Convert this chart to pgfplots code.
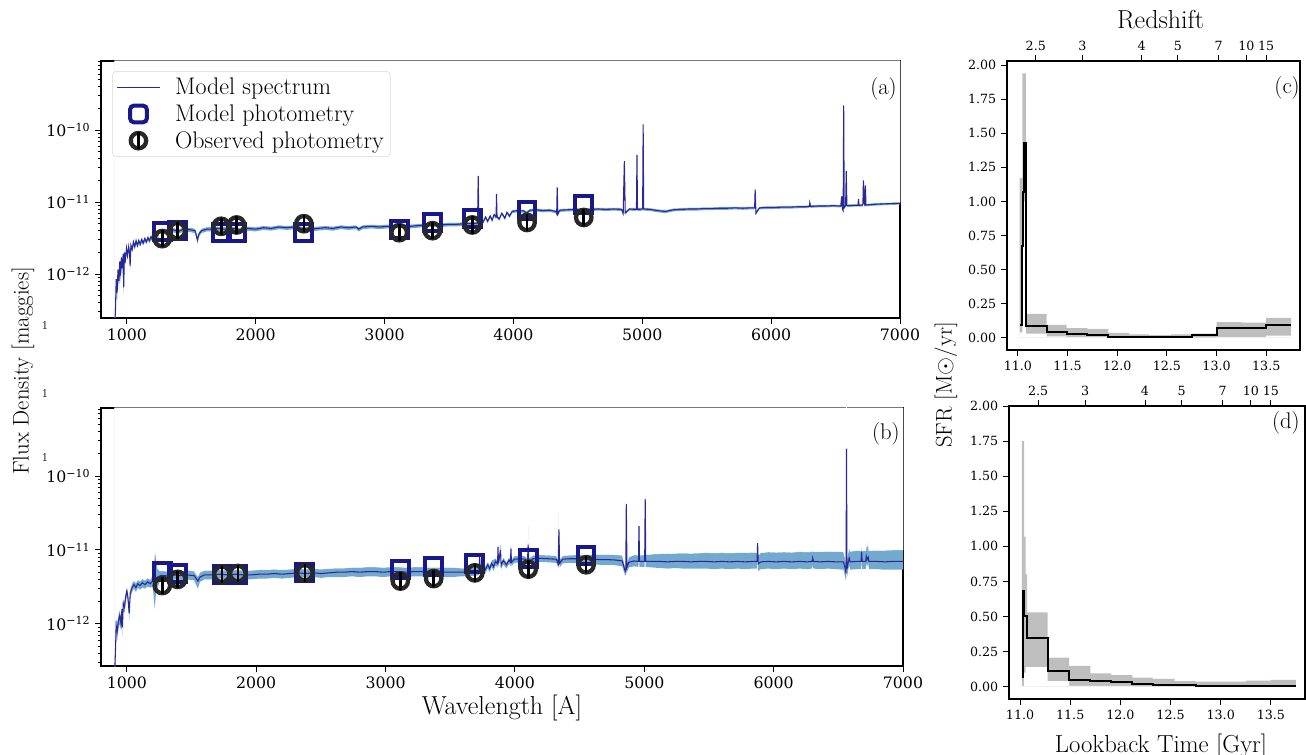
\documentclass[border=0pt]{standalone}
\usepackage{fontspec}
\usepackage{pgfplots}
\usepackage{pgfplotstable}
\pgfplotsset{compat=1.18}
\newfontfamily\dvs{DejaVu Serif}
% tick labels are set in math mode by pgfplots, so they are boxed in DejaVu Serif here
\newcommand\tkl[1]{\mbox{\dvs\fontsize{11.8}{14}\selectfont #1}}
\newcommand\tkr[1]{\mbox{\dvs\fontsize{9.5}{11}\selectfont #1}}

\definecolor{specband}{RGB}{116,169,207}
\definecolor{specline}{RGB}{40,40,150}
\definecolor{phnavy}{RGB}{24,24,138}
\definecolor{obsgray}{RGB}{40,40,40}
\definecolor{sfhband}{RGB}{190,190,190}

% flux axes are drawn as log10(flux) on a linear axis
% model spectrum, panel (a): wavelength, median, 16th and 84th percentiles [maggies]
\pgfplotstableread{
lam f lo hi
905 0.20e-12 0.15e-12 0.25e-12
912 0.30e-12 0.22e-12 0.40e-12
918 0.85e-12 0.6e-12 1.1e-12
925 0.55e-12 0.4e-12 0.8e-12
932 1.15e-12 0.9e-12 1.4e-12
940 0.80e-12 0.6e-12 1.0e-12
946 1.5e-12 1.2e-12 1.8e-12
952 0.95e-12 0.75e-12 1.2e-12
958 1.7e-12 1.4e-12 2.0e-12
965 1.2e-12 1.0e-12 1.5e-12
972 1.9e-12 1.6e-12 2.2e-12
976 0.65e-12 0.5e-12 0.8e-12
982 2.0e-12 1.7e-12 2.3e-12
990 1.6e-12 1.4e-12 1.9e-12
998 2.3e-12 2.0e-12 2.6e-12
1006 1.8e-12 1.6e-12 2.1e-12
1015 2.4e-12 2.1e-12 2.7e-12
1022 1.9e-12 1.7e-12 2.2e-12
1026 1.3e-12 1.1e-12 1.6e-12
1032 2.5e-12 2.2e-12 2.8e-12
1042 2.2e-12 2.0e-12 2.5e-12
1052 2.8e-12 2.5e-12 3.1e-12
1062 2.4e-12 2.2e-12 2.7e-12
1072 2.9e-12 2.6e-12 3.2e-12
1082 2.5e-12 2.3e-12 2.8e-12
1092 2.9e-12 2.6e-12 3.2e-12
1104 2.6e-12 2.4e-12 2.9e-12
1116 3.0e-12 2.7e-12 3.3e-12
1128 2.7e-12 2.5e-12 3.0e-12
1140 3.1e-12 2.8e-12 3.4e-12
1152 2.8e-12 2.6e-12 3.1e-12
1164 3.2e-12 2.9e-12 3.5e-12
1176 2.9e-12 2.7e-12 3.2e-12
1188 3.3e-12 3.0e-12 3.6e-12
1200 3.0e-12 2.8e-12 3.3e-12
1210 3.5e-12 3.2e-12 3.9e-12
1216 3.1e-12 2.4e-12 3.6e-12
1225 3.7e-12 3.4e-12 4.0e-12
1236 3.4e-12 2.2e-12 3.8e-12
1250 3.9e-12 3.6e-12 4.2e-12
1275 4.0e-12 3.7e-12 4.3e-12
1300 4.0e-12 3.7e-12 4.3e-12
1335 3.8e-12 3.5e-12 4.1e-12
1360 4.1e-12 3.8e-12 4.4e-12
1400 3.9e-12 3.6e-12 4.2e-12
1440 4.2e-12 3.9e-12 4.5e-12
1500 4.1e-12 3.8e-12 4.4e-12
1530 4.0e-12 3.7e-12 4.3e-12
1549 3.0e-12 2.6e-12 3.4e-12
1560 3.6e-12 3.3e-12 3.9e-12
1580 4.0e-12 3.7e-12 4.3e-12
1620 4.2e-12 3.9e-12 4.5e-12
1660 4.2e-12 3.9e-12 4.5e-12
1700 4.3e-12 4.0e-12 4.6e-12
1760 4.2e-12 3.9e-12 4.5e-12
1820 4.3e-12 4.0e-12 4.6e-12
1880 4.1e-12 3.8e-12 4.4e-12
1940 4.3e-12 4.0e-12 4.6e-12
2000 4.2e-12 3.9e-12 4.5e-12
2060 4.4e-12 4.1e-12 4.7e-12
2120 4.3e-12 4.0e-12 4.6e-12
2180 4.5e-12 4.2e-12 4.8e-12
2240 4.4e-12 4.1e-12 4.7e-12
2300 4.5e-12 4.2e-12 4.8e-12
2360 4.3e-12 4.0e-12 4.6e-12
2420 4.2e-12 3.9e-12 4.5e-12
2480 4.3e-12 4.0e-12 4.6e-12
2540 4.4e-12 4.1e-12 4.7e-12
2600 4.3e-12 4.0e-12 4.6e-12
2660 4.5e-12 4.2e-12 4.8e-12
2720 4.4e-12 4.1e-12 4.7e-12
2780 4.5e-12 4.2e-12 4.8e-12
2800 4.2e-12 3.9e-12 4.5e-12
2830 4.5e-12 4.2e-12 4.8e-12
2900 4.6e-12 4.3e-12 4.9e-12
2960 4.5e-12 4.2e-12 4.8e-12
3020 4.6e-12 4.3e-12 4.9e-12
3080 4.6e-12 4.3e-12 4.9e-12
3140 4.7e-12 4.4e-12 5.0e-12
3200 4.6e-12 4.3e-12 4.9e-12
3260 4.7e-12 4.4e-12 5.0e-12
3320 4.8e-12 4.5e-12 5.1e-12
3380 4.8e-12 4.5e-12 5.1e-12
3440 4.8e-12 4.5e-12 5.1e-12
3500 4.9e-12 4.6e-12 5.2e-12
3560 4.9e-12 4.6e-12 5.2e-12
3620 5.0e-12 4.7e-12 5.3e-12
3680 5.0e-12 4.7e-12 5.3e-12
3722 5.1e-12 4.8e-12 5.4e-12
3727 23e-12 21e-12 28e-12
3732 5.2e-12 4.9e-12 5.5e-12
3750 5.8e-12 5.4e-12 6.2e-12
3765 5.3e-12 5.0e-12 5.7e-12
3785 6.2e-12 5.8e-12 6.6e-12
3800 5.4e-12 5.1e-12 5.8e-12
3820 6.4e-12 6.0e-12 6.8e-12
3835 5.6e-12 5.3e-12 6.0e-12
3850 6.7e-12 6.3e-12 7.1e-12
3866 6.2e-12 5.8e-12 6.6e-12
3869 13e-12 12e-12 15e-12
3873 6.3e-12 5.9e-12 6.7e-12
3890 5.8e-12 5.5e-12 6.2e-12
3910 7.0e-12 6.6e-12 7.4e-12
3934 6.0e-12 5.6e-12 6.4e-12
3950 7.2e-12 6.8e-12 7.6e-12
3970 6.4e-12 6.0e-12 6.8e-12
3990 7.4e-12 7.0e-12 7.8e-12
4030 7.6e-12 7.2e-12 8.0e-12
4080 7.5e-12 7.1e-12 7.9e-12
4102 7.0e-12 6.6e-12 7.6e-12
4130 7.7e-12 7.3e-12 8.1e-12
4180 7.8e-12 7.4e-12 8.2e-12
4230 7.6e-12 7.2e-12 8.0e-12
4280 7.7e-12 7.3e-12 8.1e-12
4330 7.4e-12 7.0e-12 7.8e-12
4336 6.9e-12 6.5e-12 7.3e-12
4340 16e-12 15e-12 19e-12
4345 6.8e-12 6.4e-12 7.2e-12
4360 7.7e-12 7.3e-12 8.1e-12
4420 7.8e-12 7.4e-12 8.2e-12
4480 7.9e-12 7.5e-12 8.3e-12
4540 7.8e-12 7.4e-12 8.2e-12
4600 7.9e-12 7.5e-12 8.3e-12
4660 8.0e-12 7.6e-12 8.4e-12
4720 7.9e-12 7.5e-12 8.3e-12
4780 8.0e-12 7.6e-12 8.4e-12
4840 7.9e-12 7.5e-12 8.3e-12
4852 6.9e-12 6.5e-12 7.3e-12
4861 37e-12 34e-12 44e-12
4868 7.1e-12 6.7e-12 7.5e-12
4900 8.0e-12 7.6e-12 8.4e-12
4955 7.9e-12 7.5e-12 8.3e-12
4959 45e-12 42e-12 52e-12
4963 7.9e-12 7.5e-12 8.3e-12
5003 8.0e-12 7.6e-12 8.4e-12
5007 120e-12 112e-12 140e-12
5011 8.0e-12 7.6e-12 8.4e-12
5060 7.9e-12 7.5e-12 8.3e-12
5120 7.6e-12 7.2e-12 8.0e-12
5180 7.4e-12 7.0e-12 7.8e-12
5240 7.8e-12 7.4e-12 8.2e-12
5300 7.9e-12 7.5e-12 8.3e-12
5360 8.0e-12 7.6e-12 8.4e-12
5420 8.0e-12 7.6e-12 8.4e-12
5480 8.1e-12 7.7e-12 8.5e-12
5540 8.1e-12 7.7e-12 8.5e-12
5600 8.2e-12 7.8e-12 8.6e-12
5660 8.2e-12 7.8e-12 8.6e-12
5720 8.3e-12 7.9e-12 8.7e-12
5780 8.2e-12 7.8e-12 8.6e-12
5840 8.3e-12 7.9e-12 8.7e-12
5872 8.3e-12 7.9e-12 8.7e-12
5876 15e-12 14e-12 18e-12
5882 7.0e-12 6.6e-12 7.4e-12
5892 7.5e-12 7.1e-12 7.9e-12
5910 8.3e-12 7.9e-12 8.7e-12
5970 8.4e-12 8.0e-12 8.8e-12
6030 8.4e-12 8.0e-12 8.8e-12
6090 8.5e-12 8.1e-12 8.9e-12
6150 8.5e-12 8.1e-12 8.9e-12
6210 8.6e-12 8.2e-12 9.0e-12
6270 8.6e-12 8.2e-12 9.0e-12
6297 8.7e-12 8.3e-12 9.1e-12
6300 9.8e-12 9.3e-12 10.3e-12
6306 8.7e-12 8.3e-12 9.1e-12
6360 8.8e-12 8.4e-12 9.2e-12
6420 8.8e-12 8.4e-12 9.2e-12
6480 8.9e-12 8.5e-12 9.3e-12
6540 8.8e-12 8.4e-12 9.2e-12
6548 12e-12 11e-12 13e-12
6553 8.0e-12 7.6e-12 8.4e-12
6559 7.6e-12 7.2e-12 8.0e-12
6563 220e-12 200e-12 280e-12
6567 8.4e-12 8.0e-12 8.8e-12
6578 8.9e-12 8.5e-12 9.3e-12
6583 27e-12 25e-12 31e-12
6588 8.9e-12 8.5e-12 9.3e-12
6640 9.0e-12 8.6e-12 9.4e-12
6674 9.0e-12 8.6e-12 9.4e-12
6678 11e-12 10.5e-12 11.8e-12
6682 9.0e-12 8.6e-12 9.4e-12
6712 9.1e-12 8.7e-12 9.5e-12
6716 20e-12 19e-12 23e-12
6722 9.6e-12 9.1e-12 10.1e-12
6726 9.2e-12 8.8e-12 9.6e-12
6731 17e-12 16e-12 19e-12
6736 9.1e-12 8.7e-12 9.5e-12
6800 9.3e-12 8.9e-12 9.7e-12
6860 9.4e-12 9.0e-12 9.8e-12
6920 9.5e-12 9.1e-12 9.9e-12
7000 9.6e-12 9.2e-12 10.0e-12
}\specA

% model spectrum, panel (b)
\pgfplotstableread{
lam f lo hi
905 0.2e-12 0.15e-12 0.3e-12
913 0.5e-12 0.35e-12 0.8e-12
917 0.95e-12 0.7e-12 1.3e-12
925 0.8e-12 0.6e-12 1.1e-12
935 1.1e-12 0.85e-12 1.4e-12
945 1.3e-12 1.0e-12 1.6e-12
955 1.0e-12 0.8e-12 1.3e-12
962 1.6e-12 1.3e-12 2.0e-12
966 0.9e-12 0.7e-12 1.2e-12
972 1.9e-12 1.5e-12 2.3e-12
982 1.7e-12 1.4e-12 2.1e-12
990 2.3e-12 1.9e-12 2.7e-12
1000 2.8e-12 2.4e-12 3.2e-12
1008 2.3e-12 2.0e-12 2.7e-12
1018 1.4e-12 1.1e-12 1.8e-12
1026 2.6e-12 2.2e-12 3.0e-12
1040 3.1e-12 2.7e-12 3.6e-12
1055 3.4e-12 3.0e-12 3.9e-12
1070 3.1e-12 2.7e-12 3.6e-12
1085 3.5e-12 3.1e-12 4.0e-12
1100 3.3e-12 2.9e-12 3.8e-12
1120 3.6e-12 3.1e-12 4.1e-12
1140 3.4e-12 3.0e-12 3.9e-12
1160 3.7e-12 3.2e-12 4.2e-12
1180 3.5e-12 3.1e-12 4.0e-12
1200 3.8e-12 3.2e-12 4.6e-12
1210 4.0e-12 2.0e-12 7.0e-12
1216 4.6e-12 1.6e-12 10.0e-12
1224 4.2e-12 2.5e-12 8.5e-12
1240 4.3e-12 3.2e-12 5.5e-12
1260 4.5e-12 3.9e-12 5.2e-12
1290 4.5e-12 3.9e-12 5.2e-12
1330 4.4e-12 3.8e-12 5.1e-12
1370 4.6e-12 4.0e-12 5.3e-12
1410 4.5e-12 3.9e-12 5.2e-12
1460 4.6e-12 4.0e-12 5.3e-12
1520 4.5e-12 3.9e-12 5.2e-12
1549 3.8e-12 3.0e-12 4.4e-12
1565 4.3e-12 3.7e-12 5.0e-12
1600 4.6e-12 4.0e-12 5.3e-12
1660 4.6e-12 4.0e-12 5.3e-12
1720 4.7e-12 4.1e-12 5.4e-12
1780 4.6e-12 4.0e-12 5.3e-12
1840 4.7e-12 4.1e-12 5.4e-12
1900 4.6e-12 4.0e-12 5.3e-12
1960 4.6e-12 4.0e-12 5.3e-12
2020 4.7e-12 4.1e-12 5.4e-12
2080 4.7e-12 4.1e-12 5.4e-12
2140 4.8e-12 4.2e-12 5.5e-12
2200 4.7e-12 4.1e-12 5.4e-12
2260 4.8e-12 4.2e-12 5.5e-12
2320 4.9e-12 4.3e-12 5.6e-12
2380 4.8e-12 4.2e-12 5.5e-12
2440 4.9e-12 4.3e-12 5.6e-12
2500 4.8e-12 4.2e-12 5.5e-12
2560 4.9e-12 4.3e-12 5.6e-12
2620 5.0e-12 4.3e-12 5.7e-12
2680 5.0e-12 4.3e-12 5.7e-12
2740 5.1e-12 4.4e-12 5.8e-12
2800 5.0e-12 4.3e-12 5.8e-12
2860 5.1e-12 4.4e-12 5.9e-12
2920 5.1e-12 4.4e-12 5.9e-12
2980 5.0e-12 4.3e-12 5.8e-12
3040 5.1e-12 4.4e-12 5.9e-12
3100 5.1e-12 4.4e-12 5.9e-12
3160 5.0e-12 4.3e-12 5.8e-12
3220 5.1e-12 4.4e-12 5.9e-12
3280 5.1e-12 4.4e-12 5.9e-12
3340 5.0e-12 4.3e-12 5.8e-12
3400 5.0e-12 4.3e-12 5.8e-12
3460 5.0e-12 4.3e-12 5.8e-12
3520 5.0e-12 4.3e-12 5.8e-12
3580 5.0e-12 4.4e-12 5.7e-12
3640 5.0e-12 4.4e-12 5.7e-12
3700 5.1e-12 4.5e-12 5.8e-12
3722 5.2e-12 4.6e-12 5.9e-12
3727 8.2e-12 7.0e-12 15e-12
3732 5.3e-12 4.7e-12 6.0e-12
3750 5.9e-12 5.2e-12 6.6e-12
3770 5.4e-12 4.8e-12 6.1e-12
3790 6.3e-12 5.6e-12 7.0e-12
3805 5.6e-12 5.0e-12 6.3e-12
3820 6.6e-12 5.9e-12 7.3e-12
3835 5.9e-12 5.2e-12 7.5e-12
3850 7.0e-12 6.2e-12 7.8e-12
3866 6.5e-12 5.8e-12 7.2e-12
3869 11e-12 9.5e-12 17e-12
3873 6.6e-12 5.9e-12 7.3e-12
3889 10e-12 8.5e-12 16e-12
3893 6.2e-12 5.5e-12 6.9e-12
3910 7.2e-12 6.4e-12 8.0e-12
3934 6.3e-12 5.6e-12 7.0e-12
3955 7.3e-12 6.5e-12 8.1e-12
3966 6.8e-12 6.0e-12 7.5e-12
3969 10.5e-12 9.0e-12 17e-12
3973 6.8e-12 6.0e-12 7.5e-12
3995 7.5e-12 6.7e-12 8.3e-12
4040 7.6e-12 6.8e-12 8.4e-12
4080 7.5e-12 6.7e-12 8.3e-12
4097 6.9e-12 6.1e-12 7.7e-12
4102 11.8e-12 10e-12 27e-12
4107 7.0e-12 6.2e-12 7.8e-12
4140 7.6e-12 6.8e-12 8.5e-12
4200 7.7e-12 6.9e-12 8.6e-12
4260 7.6e-12 6.8e-12 8.5e-12
4320 7.5e-12 6.7e-12 8.4e-12
4335 6.5e-12 5.7e-12 7.4e-12
4340 19e-12 16e-12 50e-12
4345 6.6e-12 5.8e-12 7.5e-12
4370 7.5e-12 6.6e-12 8.4e-12
4420 7.6e-12 6.7e-12 8.5e-12
4480 7.6e-12 6.6e-12 8.6e-12
4540 7.5e-12 6.5e-12 8.6e-12
4600 7.5e-12 6.4e-12 8.7e-12
4660 7.4e-12 6.3e-12 8.7e-12
4720 7.4e-12 6.3e-12 8.7e-12
4780 7.3e-12 6.2e-12 8.6e-12
4830 7.1e-12 6.0e-12 8.5e-12
4850 5.3e-12 4.6e-12 6.2e-12
4857 5.1e-12 4.5e-12 6.0e-12
4861 42e-12 36e-12 141e-12
4866 5.8e-12 5.0e-12 6.8e-12
4880 6.8e-12 5.8e-12 8.0e-12
4920 7.1e-12 6.0e-12 8.6e-12
4955 7.0e-12 5.9e-12 8.5e-12
4959 21e-12 18e-12 50e-12
4963 7.0e-12 5.9e-12 8.5e-12
5003 7.0e-12 5.9e-12 8.6e-12
5007 49e-12 42e-12 150e-12
5011 7.0e-12 5.9e-12 8.6e-12
5060 7.0e-12 5.8e-12 8.8e-12
5120 7.0e-12 5.7e-12 8.9e-12
5180 6.9e-12 5.6e-12 8.9e-12
5240 7.0e-12 5.7e-12 9.0e-12
5300 7.0e-12 5.6e-12 9.1e-12
5360 6.9e-12 5.6e-12 9.0e-12
5420 7.0e-12 5.6e-12 9.1e-12
5480 7.0e-12 5.6e-12 9.2e-12
5540 6.9e-12 5.5e-12 9.1e-12
5600 7.0e-12 5.6e-12 9.2e-12
5660 6.9e-12 5.5e-12 9.1e-12
5720 7.0e-12 5.6e-12 9.2e-12
5780 6.9e-12 5.5e-12 9.2e-12
5840 7.0e-12 5.6e-12 9.3e-12
5872 7.0e-12 5.6e-12 9.3e-12
5876 12.4e-12 10.5e-12 27e-12
5881 6.5e-12 5.2e-12 8.5e-12
5900 6.9e-12 5.5e-12 9.2e-12
5960 7.0e-12 5.6e-12 9.4e-12
6020 6.9e-12 5.5e-12 9.3e-12
6080 7.0e-12 5.6e-12 9.4e-12
6140 6.9e-12 5.5e-12 9.3e-12
6200 7.0e-12 5.6e-12 9.5e-12
6260 6.9e-12 5.5e-12 9.4e-12
6297 7.0e-12 5.6e-12 9.5e-12
6302 7.8e-12 6.3e-12 10.5e-12
6307 7.0e-12 5.6e-12 9.5e-12
6360 6.9e-12 5.5e-12 9.5e-12
6420 7.0e-12 5.6e-12 9.6e-12
6480 6.9e-12 5.5e-12 9.5e-12
6540 6.9e-12 5.4e-12 9.5e-12
6556 5.4e-12 4.0e-12 7.5e-12
6560 4.8e-12 3.8e-12 6.8e-12
6563 234e-12 180e-12 900e-12
6567 5.5e-12 4.3e-12 7.8e-12
6575 6.6e-12 5.2e-12 9.2e-12
6584 7.8e-12 6.2e-12 11e-12
6592 6.9e-12 5.4e-12 9.6e-12
6640 7.0e-12 5.5e-12 9.8e-12
6676 7.0e-12 5.5e-12 9.8e-12
6680 9.4e-12 7.8e-12 15.5e-12
6684 7.0e-12 5.5e-12 9.8e-12
6712 7.0e-12 5.5e-12 9.8e-12
6716 8.2e-12 6.8e-12 13e-12
6722 7.4e-12 6.0e-12 11e-12
6731 8.0e-12 6.6e-12 13e-12
6736 7.0e-12 5.5e-12 9.8e-12
6800 7.0e-12 5.5e-12 9.9e-12
6860 6.9e-12 5.4e-12 9.9e-12
6920 7.0e-12 5.4e-12 10.0e-12
7000 7.0e-12 5.4e-12 10.0e-12
}\specB

% photometry: filter wavelength, model flux, observed flux [maggies]
\pgfplotstableread{
lam mod obs
1275 3.9e-12 3.1e-12
1392 4.0e-12 4.0e-12
1733 3.8e-12 4.6e-12
1852 3.8e-12 4.8e-12
2374 3.8e-12 5.0e-12
3114 4.2e-12 3.75e-12
3372 5.2e-12 4.0e-12
3681 5.9e-12 4.8e-12
4106 7.7e-12 5.2e-12
4546 9.2e-12 6.1e-12
}\photA
\pgfplotstableread{
lam mod obs
1274 5.1e-12 3.3e-12
1393 4.8e-12 4.0e-12
1735 4.7e-12 4.7e-12
1858 4.7e-12 4.8e-12
2376 4.9e-12 4.9e-12
3114 5.4e-12 3.8e-12
3372 6.0e-12 4.1e-12
3690 6.6e-12 4.9e-12
4103 7.6e-12 5.5e-12
4550 8.5e-12 6.3e-12
}\photB

\begin{document}
\begin{tikzpicture}
\useasboundingbox (0,0) rectangle (979.5pt,565.5pt);

% (a)
\begin{axis}[scale only axis, anchor=south west, at={(75.75pt,327pt)},
  width=599.25pt, height=192.75pt,
  xmin=800, xmax=7000, ymin=-12.611, ymax=-9.041,
  axis line style={black, line width=0.8pt}, tick align=outside,
  xtick pos=left, ytick pos=left, major tick length=4.5pt, minor tick length=2.5pt,
  tick style={black, line width=0.7pt},
  xtick={1000,2000,3000,4000,5000,6000,7000},
  xticklabels={\tkl{1000},\tkl{2000},\tkl{3000},\tkl{4000},\tkl{5000},\tkl{6000},\tkl{7000}},
  ytick={-12,-11,-10},
  yticklabels={\tkl{10\textsuperscript{−12}},\tkl{10\textsuperscript{−11}},\tkl{10\textsuperscript{−10}}},
  minor ytick={-12.523,-12.398,-12.301,-12.222,-12.155,-12.097,-12.046,
    -11.699,-11.523,-11.398,-11.301,-11.222,-11.155,-11.097,-11.046,
    -10.699,-10.523,-10.398,-10.301,-10.222,-10.155,-10.097,-10.046,
    -9.699,-9.523,-9.398,-9.301,-9.222,-9.155,-9.097,-9.046},
  legend cell align=left,
  legend style={at={(0.014,0.961)}, anchor=north west, draw=black!15,
    rounded corners=3pt, fill=white, font=\fontsize{18}{21}\selectfont,
    row sep=2pt, column sep=9pt, inner sep=3pt, nodes={inner sep=2pt}}]
% band: area between the 16th and 84th percentile curves
\addplot[fill=specband, draw=none, forget plot]
  table[x=lam, y expr={ln(\thisrow{lo})/ln(10)}]{\specA} \closedcycle;
\addplot[fill=white, draw=white, line width=0.4pt, forget plot]
  table[x=lam, y expr={ln(\thisrow{hi})/ln(10)}]{\specA} \closedcycle;
\addplot[specline, line width=0.8pt,
  legend image code/.code={\draw[specline, line width=1pt] (0pt,0pt) -- (32pt,0pt);}]
  table[x=lam, y expr={ln(\thisrow{f})/ln(10)}]{\specA};
\addlegendentry{Model spectrum}
\addplot[only marks, mark=square, mark size=6.3pt,
  mark options={draw=phnavy, line width=3pt},
  legend image code/.code={\draw[phnavy, line width=3pt] (9.7pt,-6.3pt) rectangle (22.3pt,6.3pt);}]
  table[x=lam, y expr={ln(\thisrow{mod})/ln(10)}]{\photA};
\addlegendentry{Model photometry}
\addplot[only marks, mark=o, mark size=5.8pt,
  mark options={draw=obsgray, line width=3.2pt},
  legend image code/.code={\draw[obsgray, line width=3.2pt] (16pt,0pt) circle (5.8pt);
    \draw[black, line width=2pt] (16pt,-6.5pt) -- (16pt,6.5pt);}]
  table[x=lam, y expr={ln(\thisrow{obs})/ln(10)}]{\photA};
\addlegendentry{Observed photometry}
\addplot[only marks, mark=|, mark size=6.5pt, mark options={black, line width=2pt},
  forget plot] table[x=lam, y expr={ln(\thisrow{obs})/ln(10)}]{\photA};
\end{axis}

% (b)
\begin{axis}[scale only axis, anchor=south west, at={(75.75pt,66pt)},
  width=601.5pt, height=193.5pt,
  xmin=800, xmax=7000, ymin=-12.569, ymax=-9.081,
  axis line style={black, line width=0.8pt}, tick align=outside,
  xtick pos=left, ytick pos=left, major tick length=4.5pt, minor tick length=2.5pt,
  tick style={black, line width=0.7pt},
  xtick={1000,2000,3000,4000,5000,6000,7000},
  xticklabels={\tkl{1000},\tkl{2000},\tkl{3000},\tkl{4000},\tkl{5000},\tkl{6000},\tkl{7000}},
  ytick={-12,-11,-10},
  yticklabels={\tkl{10\textsuperscript{−12}},\tkl{10\textsuperscript{−11}},\tkl{10\textsuperscript{−10}}},
  minor ytick={-12.523,-12.398,-12.301,-12.222,-12.155,-12.097,-12.046,
    -11.699,-11.523,-11.398,-11.301,-11.222,-11.155,-11.097,-11.046,
    -10.699,-10.523,-10.398,-10.301,-10.222,-10.155,-10.097,-10.046,
    -9.699,-9.523,-9.398,-9.301,-9.222,-9.155,-9.097}]
\addplot[fill=specband, draw=none]
  table[x=lam, y expr={ln(\thisrow{lo})/ln(10)}]{\specB} \closedcycle;
\addplot[fill=white, draw=white, line width=0.4pt]
  table[x=lam, y expr={ln(\thisrow{hi})/ln(10)}]{\specB} \closedcycle;
\addplot[specline, line width=0.8pt]
  table[x=lam, y expr={ln(\thisrow{f})/ln(10)}]{\specB};
\addplot[only marks, mark=square, mark size=6.3pt,
  mark options={draw=phnavy, line width=3pt}]
  table[x=lam, y expr={ln(\thisrow{mod})/ln(10)}]{\photB};
\addplot[only marks, mark=o, mark size=5.8pt,
  mark options={draw=obsgray, line width=3.2pt}]
  table[x=lam, y expr={ln(\thisrow{obs})/ln(10)}]{\photB};
\addplot[only marks, mark=|, mark size=6.5pt, mark options={black, line width=2pt}]
  table[x=lam, y expr={ln(\thisrow{obs})/ln(10)}]{\photB};
\end{axis}

% (c)
\begin{axis}[scale only axis, anchor=south west, at={(755.25pt,303pt)},
  width=219.75pt, height=216.75pt,
  xmin=10.89, xmax=13.84, ymin=-0.09, ymax=2.03,
  axis line style={black, line width=0.8pt}, tick align=outside,
  xtick pos=left, ytick pos=left, major tick length=4.5pt,
  tick style={black, line width=0.7pt},
  xtick={11,11.5,12,12.5,13,13.5},
  xticklabels={\tkr{11.0},\tkr{11.5},\tkr{12.0},\tkr{12.5},\tkr{13.0},\tkr{13.5}},
  ytick={0,0.25,0.5,0.75,1,1.25,1.5,1.75,2},
  yticklabels={\tkr{0.00},\tkr{0.25},\tkr{0.50},\tkr{0.75},\tkr{1.00},\tkr{1.25},\tkr{1.50},\tkr{1.75},\tkr{2.00}}]
\addplot[const plot, fill=sfhband, draw=none] coordinates {
  (11.018,1.17) (11.045,1.94) (11.08,0.175) (11.29,0.095) (11.49,0.07)
  (11.70,0.065) (11.91,0.035) (12.12,0.025) (12.32,0.02) (12.54,0.025)
  (12.75,0.03) (13.0,0.115) (13.25,0.11) (13.5,0.145) (13.75,0.145)} \closedcycle;
\addplot[const plot, fill=white, draw=none] coordinates {
  (11.018,0.04) (11.045,1.0) (11.08,0.03) (11.29,0.01) (11.49,0.005)
  (11.70,0.005) (11.91,0) (12.12,0) (12.32,0) (12.54,0) (12.75,0)
  (13.0,0.005) (13.25,0.005) (13.5,0.015) (13.75,0.015)} \closedcycle;
\addplot[const plot, black, line width=1.5pt] coordinates {
  (11.018,0.09) (11.036,0.67) (11.05,1.07) (11.058,1.43) (11.085,0.085)
  (11.29,0.045) (11.49,0.025) (11.70,0.02) (11.91,0.005) (12.12,0.003)
  (12.32,0.005) (12.54,0.008) (12.75,0.018) (13.0,0.068) (13.25,0.075)
  (13.5,0.09) (13.75,0.09)};
\end{axis}
\begin{axis}[scale only axis, anchor=south west, at={(755.25pt,303pt)},
  width=219.75pt, height=216.75pt,
  xmin=10.89, xmax=13.84, ymin=0, ymax=1,
  axis y line=none, axis x line*=top, tick align=outside,
  major tick length=4.5pt, tick style={black, line width=0.7pt},
  axis line style={black, line width=0.8pt},
  xtick={11.18,11.65,12.245,12.61,13.02,13.30,13.50},
  xticklabels={\tkr{2.5},\tkr{3},\tkr{4},\tkr{5},\tkr{7},\tkr{10},\tkr{15}}]
\end{axis}

% (d)
\begin{axis}[scale only axis, anchor=south west, at={(756.75pt,41.25pt)},
  width=222pt, height=219.75pt,
  xmin=10.89, xmax=13.84, ymin=-0.088, ymax=2.0,
  axis line style={black, line width=0.8pt}, tick align=outside,
  xtick pos=left, ytick pos=left, major tick length=4.5pt,
  tick style={black, line width=0.7pt},
  xtick={11,11.5,12,12.5,13,13.5},
  xticklabels={\tkr{11.0},\tkr{11.5},\tkr{12.0},\tkr{12.5},\tkr{13.0},\tkr{13.5}},
  ytick={0,0.25,0.5,0.75,1,1.25,1.5,1.75,2},
  yticklabels={\tkr{0.00},\tkr{0.25},\tkr{0.50},\tkr{0.75},\tkr{1.00},\tkr{1.25},\tkr{1.50},\tkr{1.75},\tkr{2.00}}]
\addplot[const plot, fill=sfhband, draw=none] coordinates {
  (11.017,1.75) (11.04,1.07) (11.055,0.80) (11.07,0.53) (11.275,0.207)
  (11.49,0.148) (11.70,0.095) (11.91,0.083) (12.12,0.064) (12.32,0.055)
  (12.54,0.04) (12.75,0.036) (13.25,0.043) (13.5,0.048) (13.75,0.048)} \closedcycle;
\addplot[const plot, fill=white, draw=none] coordinates {
  (11.017,0.005) (11.04,0.1) (11.055,0.14) (11.07,0.14) (11.275,0.04)
  (11.49,0.005) (11.70,0.005) (11.91,0.005) (12.12,0.002) (12.32,0.002)
  (12.54,0.0) (12.75,0.0) (13.25,0.0) (13.5,0.0) (13.75,0.0)} \closedcycle;
\addplot[const plot, black, line width=1.5pt] coordinates {
  (11.017,0.07) (11.027,0.68) (11.04,0.50) (11.065,0.345) (11.275,0.115)
  (11.49,0.045) (11.70,0.04) (11.91,0.03) (12.12,0.017) (12.32,0.012)
  (12.54,0.01) (12.75,0.008) (13.25,0.007) (13.75,0.007)};
\end{axis}
\begin{axis}[scale only axis, anchor=south west, at={(756.75pt,41.25pt)},
  width=222pt, height=219.75pt,
  xmin=10.89, xmax=13.84, ymin=0, ymax=1,
  axis y line=none, axis x line*=top, tick align=outside,
  major tick length=4.5pt, tick style={black, line width=0.7pt},
  axis line style={black, line width=0.8pt},
  xtick={11.18,11.65,12.245,12.61,13.02,13.30,13.50},
  xticklabels={\tkr{2.5},\tkr{3},\tkr{4},\tkr{5},\tkr{7},\tkr{10},\tkr{15}}]
\end{axis}

% labels
\node[rotate=90, font=\fontsize{17}{20}\selectfont] at (17.25pt,287.25pt) {Flux Density [maggies]};
\node[font=\fontsize{19.5}{23}\selectfont] at (376.5pt,34.5pt) {Wavelength [A]};
\node[rotate=90, font=\fontsize{17}{20}\selectfont] at (709.5pt,276.75pt) {SFR [M$\odot$/yr]};
\node[font=\fontsize{18.5}{22}\selectfont, anchor=base] at (870.75pt,1.5pt) {Lookback Time [Gyr]};
\node[font=\fontsize{19.5}{23}\selectfont, anchor=base] at (870.4pt,543.75pt) {Redshift};
\node[font=\fontsize{17}{20}\selectfont, anchor=east, inner sep=0pt] at (672.75pt,498.75pt) {(a)};
\node[font=\fontsize{17}{20}\selectfont, anchor=east, inner sep=0pt] at (675pt,240pt) {(b)};
\node[font=\fontsize{17}{20}\selectfont, anchor=east, inner sep=0pt] at (975pt,499.9pt) {(c)};
\node[font=\fontsize{17}{20}\selectfont, anchor=east, inner sep=0pt] at (975pt,248.6pt) {(d)};
% stray tick-label glyphs visible at the left edge of the original figure
\node[font=\dvs\fontsize{8}{9}\selectfont, text=black!80] at (33.75pt,321pt) {1};
\node[font=\dvs\fontsize{8}{9}\selectfont, text=black!80] at (33.75pt,270pt) {1};
\node[font=\dvs\fontsize{8}{9}\selectfont, text=black!80] at (33.75pt,222pt) {1};
\end{tikzpicture}
\end{document}
